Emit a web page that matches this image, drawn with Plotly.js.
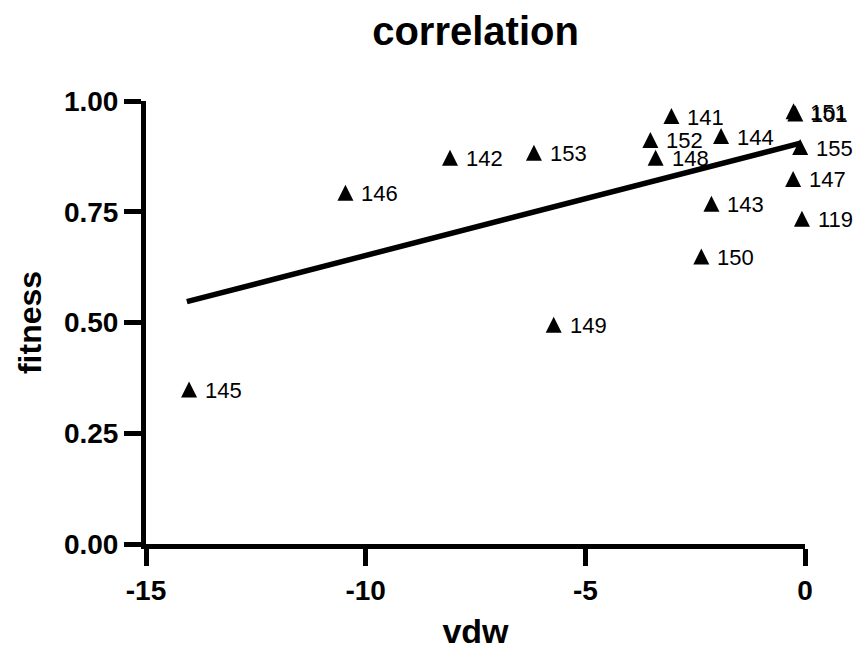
<!DOCTYPE html>
<html>
<head>
<meta charset="utf-8">
<script src="https://cdn.plot.ly/plotly-3.0.1.min.js"></script>
<style>html,body{margin:0;padding:0;background:#fff;}#chart{width:859px;height:652px;}</style>
</head>
<body>
<div id="chart"></div>
<script>
// Data
var ids     = ['145', '146', '142', '153', '149', '141', '152', '148', '144', '143', '150', '151', '101', '155', '147', '119'];
var vdw     = [-14.02, -10.46, -8.08, -6.17, -5.72, -3.04, -3.52, -3.40, -1.91, -2.13, -2.36, -0.26, -0.22, -0.11, -0.27, -0.07];
var fitness = [0.349, 0.793, 0.872, 0.883, 0.495, 0.966, 0.912, 0.872, 0.921, 0.768, 0.649, 0.977, 0.972, 0.896, 0.824, 0.734];
// Regression line end points
var fitX = [-14.07, -0.10];
var fitY = [0.547, 0.905];

var xTicks = [-15, -10, -5, 0];
var yTicks = [0, 0.25, 0.5, 0.75, 1.0];
var yTickText = ['0.00', '0.25', '0.50', '0.75', '1.00'];

var FONT = 'Liberation Sans, Arial, Helvetica, sans-serif';
var MS = 16;

var traces = [
  {
    x: fitX, y: fitY, mode: 'lines', type: 'scatter',
    line: {color: '#000', width: 5.5},
    hoverinfo: 'skip', showlegend: false, cliponaxis: false
  },
  {
    x: vdw, y: fitness, mode: 'markers', type: 'scatter',
    marker: {symbol: 'arrow-down', angle: 180, standoff: MS / 2, size: MS, color: '#000', line: {width: 0}},
    showlegend: false, cliponaxis: false
  }
];

var annotations = ids.map(function (t, i) {
  return {
    x: vdw[i], y: fitness[i], xref: 'x', yref: 'y',
    text: t, showarrow: false, xanchor: 'left', yanchor: 'middle',
    xshift: 14, yshift: -1,
    font: {family: FONT, size: 22, color: '#000'}
  };
});

var layout = {
  width: 859, height: 652,
  margin: {l: 146, r: 54, t: 101, b: 108, pad: 0},
  paper_bgcolor: '#fff', plot_bgcolor: '#fff',
  showlegend: false,
  title: {
    text: '<b>correlation</b>',
    font: {family: FONT, size: 40, color: '#000'},
    x: 0.5, xref: 'paper', xanchor: 'center',
    y: 1 - 31 / 652, yref: 'container', yanchor: 'middle'
  },
  xaxis: {
    range: [-15, 0], tickvals: xTicks, ticktext: xTicks.map(String),
    showline: true, linecolor: '#000', linewidth: 5,
    ticks: 'outside', ticklen: 17, tickwidth: 5, tickcolor: '#000',
    showgrid: false, zeroline: false,
    tickfont: {family: FONT, size: 28, color: '#000', weight: 'bold'},
    title: {text: '<b>vdw</b>', font: {family: FONT, size: 34, color: '#000'}, standoff: 16}
  },
  yaxis: {
    range: [0, 1], tickvals: yTicks, ticktext: yTickText,
    showline: true, linecolor: '#000', linewidth: 5,
    ticks: 'outside', ticklen: 17, tickwidth: 5, tickcolor: '#000',
    showgrid: false, zeroline: false,
    tickfont: {family: FONT, size: 28, color: '#000', weight: 'bold'},
    title: {text: '<b>fitness</b>', font: {family: FONT, size: 32, color: '#000'}, standoff: 14}
  },
  annotations: annotations
};

Plotly.newPlot('chart', traces, layout, {displayModeBar: false, staticPlot: true});
</script>
</body>
</html>
